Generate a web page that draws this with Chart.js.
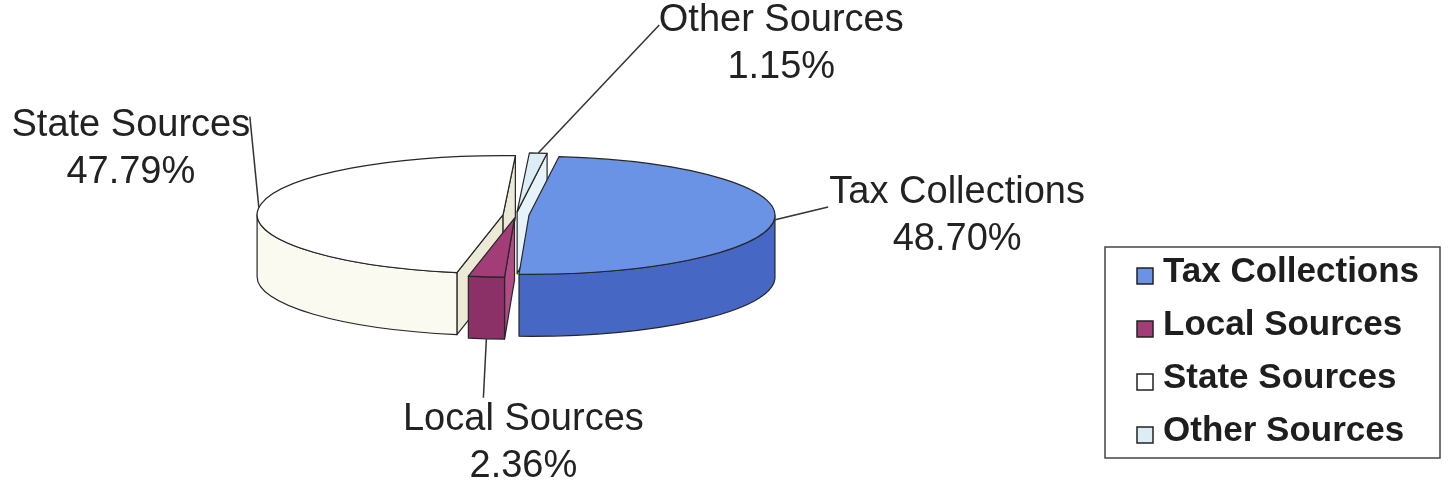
<!DOCTYPE html>
<html>
<head>
<meta charset="utf-8">
<script src="https://cdn.jsdelivr.net/npm/chart.js@4.4.1/dist/chart.umd.min.js"></script>
<style>
  html, body { margin: 0; padding: 0; background: #fff; }
  #wrap { width: 1448px; height: 492px; position: relative; }
</style>
</head>
<body>
<div id="wrap"><canvas id="revenueChart"></canvas></div>
<script>
// revenue by source, percent of total
const sources = ['Tax Collections', 'Local Sources', 'State Sources', 'Other Sources'];
const shares = [48.70, 2.36, 47.79, 1.15];

// top face, outer wall and cut face colours, one per slice
const topColors = ['#6a93e6', '#a23d78', '#ffffff', '#dcedf6'];
const wallColors = ['#4767c4', '#8c3068', '#fbfaf1', '#c9e3ef'];
const cutColors = ['#3f5cb0', '#b04d86', '#ecead6', '#e6f3f9'];

// angles of the front half of a slice (the part of the outer wall we can see)
function frontRanges(s, e) {
  const out = [];
  for (const base of [-2 * Math.PI, 0, 2 * Math.PI]) {
    const lo = Math.max(s, base), hi = Math.min(e, base + Math.PI);
    if (hi > lo) out.push([lo, hi]);
  }
  return out;
}

// where each slice sits once the pie is tilted and pulled apart
function sliceGeometry(chart, opts) {
  const arcs = chart.getDatasetMeta(0).data;
  return arcs.map((arc, i) => {
    const p = arc.getProps(['x', 'y', 'startAngle', 'endAngle', 'outerRadius'], true);
    const mid = (p.startAngle + p.endAngle) / 2;
    return {
      i, s: p.startAngle, e: p.endAngle, mid, R: p.outerRadius,
      cx: p.x + Math.cos(mid) * opts.explode,
      cy: p.y - opts.depth / 2 + Math.sin(mid) * opts.explode * opts.tilt
    };
  });
}

const pie3d = {
  id: 'pie3d',
  beforeDatasetsDraw(chart, args, opts) {
    const ctx = chart.ctx;
    const k = opts.tilt, D = opts.depth;
    const tops = chart.data.datasets[0].backgroundColor;
    // back slices first
    const geo = sliceGeometry(chart, opts).sort((a, b) => Math.sin(a.mid) - Math.sin(b.mid));

    ctx.save();
    ctx.lineJoin = 'round';
    ctx.strokeStyle = opts.edgeColor;
    ctx.lineWidth = opts.edgeWidth;

    geo.forEach(g => {
      const ry = g.R * k;

      // cut faces turned toward the viewer
      [[g.s, -Math.cos(g.s)], [g.e, Math.cos(g.e)]].forEach(([a, facing]) => {
        if (facing <= 0) return;
        const px = g.cx + g.R * Math.cos(a), py = g.cy + ry * Math.sin(a);
        ctx.beginPath();
        ctx.moveTo(g.cx, g.cy);
        ctx.lineTo(px, py);
        ctx.lineTo(px, py + D);
        ctx.lineTo(g.cx, g.cy + D);
        ctx.closePath();
        ctx.fillStyle = opts.cutColors[g.i];
        ctx.fill();
        ctx.stroke();
      });

      // outer wall
      frontRanges(g.s, g.e).forEach(([lo, hi]) => {
        ctx.beginPath();
        ctx.ellipse(g.cx, g.cy, g.R, ry, 0, lo, hi);
        ctx.ellipse(g.cx, g.cy + D, g.R, ry, 0, hi, lo, true);
        ctx.closePath();
        ctx.fillStyle = opts.wallColors[g.i];
        ctx.fill();
        ctx.stroke();
      });

      // top face
      ctx.beginPath();
      ctx.moveTo(g.cx, g.cy);
      ctx.ellipse(g.cx, g.cy, g.R, ry, 0, g.s, g.e);
      ctx.closePath();
      ctx.fillStyle = tops[g.i];
      ctx.fill();
      ctx.stroke();
    });
    ctx.restore();
    return false; // the flat arcs are not drawn
  },

  afterDraw(chart, args, opts) {
    const ctx = chart.ctx;
    const labels = chart.data.labels;
    const ds = chart.data.datasets[0];
    const geo = sliceGeometry(chart, opts);

    ctx.save();
    // leader lines and slice labels
    ctx.strokeStyle = '#333';
    ctx.lineWidth = 1.5;
    ctx.fillStyle = '#222';
    ctx.font = opts.labelFont;
    ctx.textAlign = 'center';
    ctx.textBaseline = 'middle';
    geo.forEach(g => {
      const front = Math.sin(g.mid) > 0.7;
      const ax = g.cx + g.R * Math.cos(g.mid);
      const ay = g.cy + opts.tilt * g.R * Math.sin(g.mid) + (front ? opts.depth : 0);
      const [dx, dy] = opts.leaders[g.i];
      const [tx, ty] = opts.textOffsets[g.i];
      ctx.beginPath();
      ctx.moveTo(ax, ay);
      ctx.lineTo(ax + dx, ay + dy);
      ctx.stroke();
      const bx = ax + dx + tx, by = ay + dy + ty;
      ctx.fillText(labels[g.i], bx, by - opts.lineGap / 2);
      ctx.fillText(ds.data[g.i].toFixed(2) + '%', bx, by + opts.lineGap / 2);
    });

    // boxed legend
    const L = opts.legend;
    ctx.strokeStyle = '#444';
    ctx.lineWidth = 1.5;
    ctx.strokeRect(L.x, L.y, L.w, L.h);
    ctx.font = L.font;
    ctx.textAlign = 'left';
    ctx.textBaseline = 'middle';
    labels.forEach((name, i) => {
      const y = L.y + L.first + i * L.gap;
      ctx.fillStyle = ds.backgroundColor[i];
      ctx.fillRect(L.boxX, y - L.box / 2 + 4, L.box, L.box);
      ctx.strokeStyle = '#222';
      ctx.lineWidth = 1.5;
      ctx.strokeRect(L.boxX, y - L.box / 2 + 4, L.box, L.box);
      ctx.fillStyle = '#1e1e1e';
      ctx.fillText(name, L.textX, y);
    });
    ctx.restore();
  }
};

const config = {
  type: 'pie',
  data: {
    labels: sources,
    datasets: [{
      data: shares,
      backgroundColor: topColors,
      borderWidth: 0,
      hoverBorderWidth: 0,
      offset: 0,
      hoverOffset: 0
    }]
  },
  options: {
    responsive: true,
    maintainAspectRatio: false,
    animation: false,
    events: [],
    rotation: 7,
    layout: { padding: { left: 270, right: 686, top: 0, bottom: 0 } },
    plugins: {
      legend: { display: false },
      tooltip: { enabled: false },
      pie3d: {
        tilt: 0.24,
        depth: 62,
        explode: 13,
        edgeColor: '#262626',
        edgeWidth: 1.2,
        wallColors,
        cutColors,
        labelFont: '38px "Liberation Sans", Arial, sans-serif',
        lineGap: 47,
        leaders: [[54, -13], [-3, 59], [-9, -91], [121, -128]],
        textOffsets: [[129, 9], [40, 45], [-119, 32], [122, 19]],
        legend: {
          x: 1105, y: 247, w: 335, h: 211,
          first: 25, gap: 53,
          boxX: 1137, box: 16, textX: 1163,
          font: 'bold 35px "Liberation Sans", Arial, sans-serif'
        }
      }
    }
  },
  plugins: [pie3d]
};

const revenueChart = new Chart(document.getElementById('revenueChart'), config);
</script>
</body>
</html>
